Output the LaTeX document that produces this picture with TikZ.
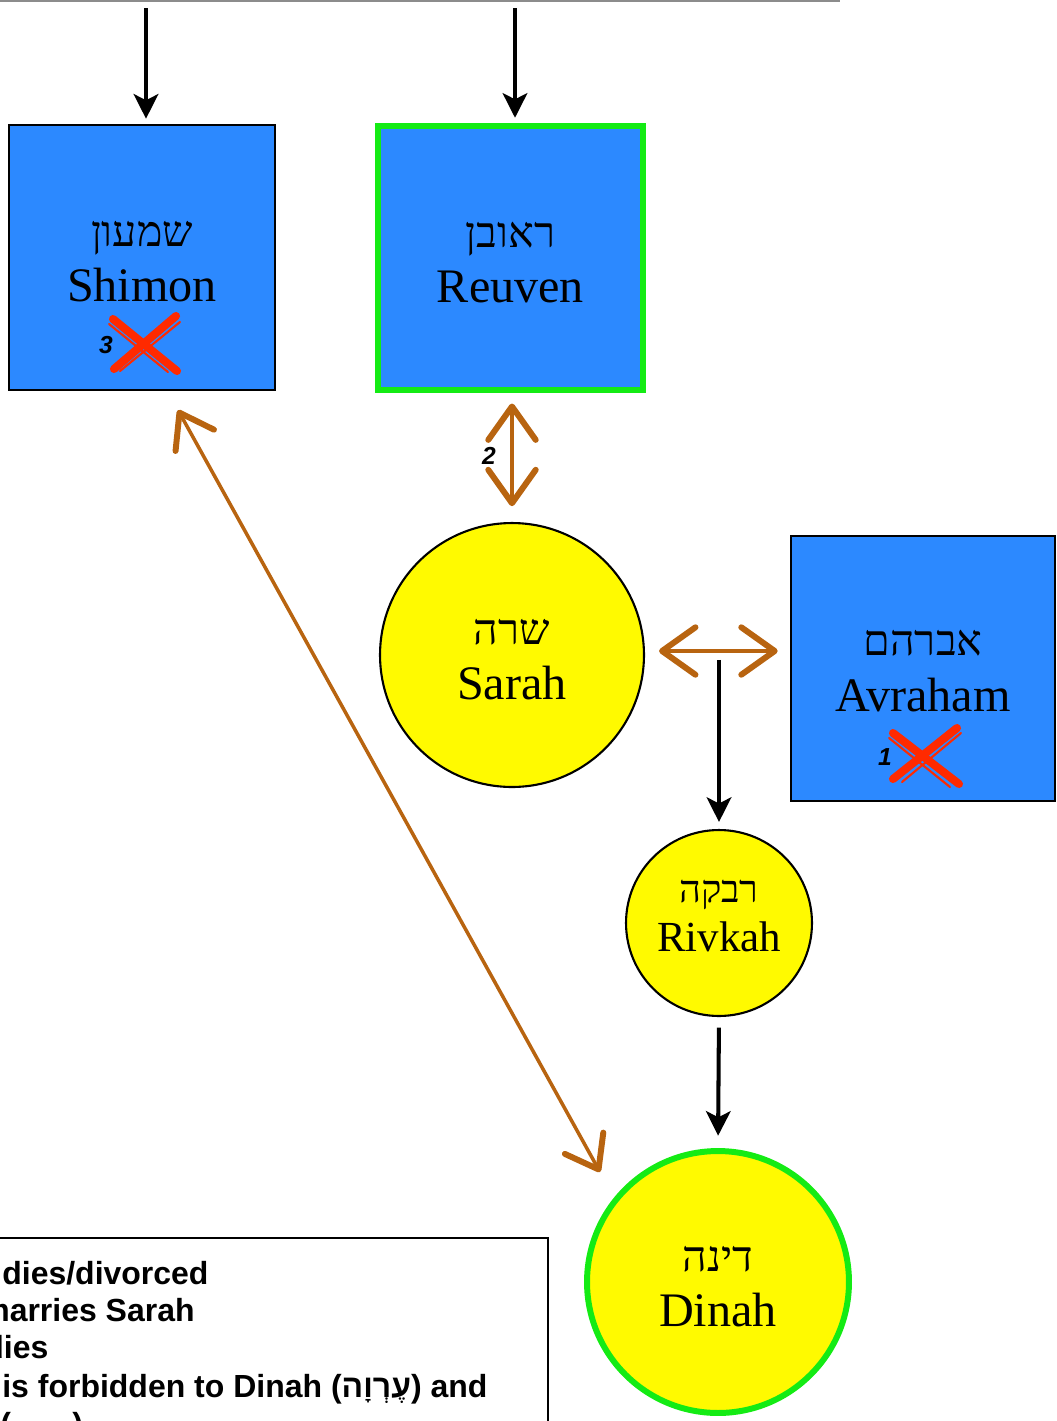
\documentclass[tikz,border=0pt]{standalone}
\usepackage{fontspec}
\setmainfont{Liberation Serif}
\setsansfont{Liberation Sans}
\newfontfamily\hebserif[Script=Hebrew, Scale=0.89]{Liberation Serif}
\newfontfamily\hebsans[Script=Hebrew]{Liberation Sans}
\TeXXeTstate=1
\usetikzlibrary{arrows.meta,calc}

\definecolor{nodeblue}{RGB}{44,137,255}
\definecolor{nodeyellow}{RGB}{255,250,0}
\definecolor{ringgreen}{RGB}{20,235,20}
\definecolor{linkbrown}{RGB}{184,100,16}
\definecolor{crossred}{RGB}{255,42,0}

\begin{document}
\begin{tikzpicture}[x=0.02cm, y=-0.02cm,
  nametext/.style={font=\fontsize{27.4}{31.4}\selectfont, align=center, inner sep=0pt},
  smalltext/.style={font=\fontsize{24.4}{27.6}\selectfont, align=center, inner sep=0pt},
  bluebox/.style={rectangle, draw=black, line width=1.2pt, fill=nodeblue},
  yellowdisc/.style={circle, draw=black, line width=1.2pt, fill=nodeyellow},
  ringed/.style={draw=ringgreen, line width=3.4pt},
  blackarrow/.style={draw=black, line width=2.3pt,
    arrows={-Stealth[length=14pt, width=14pt, inset=3.5pt]}},
  brownlink/.style={draw=linkbrown, line width=2.8pt, line cap=round,
    arrows={Straight Barb[length=19pt, width=27pt, line width=3.4pt, round]-Straight Barb[length=19pt, width=27pt, line width=3.4pt, round]}},
  thinbrownlink/.style={draw=linkbrown, line width=2pt, line cap=round,
    arrows={Straight Barb[length=18pt, width=25pt, line width=3.4pt, round]-Straight Barb[length=17pt, width=25pt, line width=3.4pt, round]}},
  crossline/.style={draw=crossred, line width=4.6pt, line cap=round},
  crossfine/.style={draw=crossred, line width=1.2pt, line cap=round},
  steplabel/.style={font=\sffamily\bfseries\itshape\fontsize{14}{16}\selectfont, inner sep=0pt},
  legendtext/.style={font=\sffamily\bfseries\fontsize{18.2}{21.3}\selectfont, inner sep=0pt, anchor=base west},
  legendframe/.style={draw=black, line width=1.3pt},
  topline/.style={draw=black!45, line width=1.3pt}
]
\useasboundingbox (0,0) rectangle (1057,1421);
\clip (0,0) rectangle (1057,1421);

% thin rule along the upper edge
\draw[topline] (0,0.6) -- (840,0.6);

% people
\node[bluebox, minimum width=5.32cm, minimum height=5.30cm,
  label={[name=shimontext, nametext, yshift=-0.09cm]center:{{\hebserif\beginR שמעון\endR}\\Shimon}}]
  (shimon) at (142,257.5) {};
\node[bluebox, ringed, minimum width=5.30cm, minimum height=5.28cm,
  label={[name=reuventext, nametext, yshift=-0.09cm]center:{{\hebserif\beginR ראובן\endR}\\Reuven}}]
  (reuven) at (510.5,258) {};
\node[bluebox, minimum width=5.28cm, minimum height=5.30cm,
  label={[name=avrahamtext, nametext, yshift=-0.05cm]center:{{\hebserif\beginR אברהם\endR}\\Avraham}}]
  (avraham) at (923,668.5) {};
\node[yellowdisc, minimum size=5.28cm,
  label={[name=sarahtext, nametext, yshift=-0.1cm]center:{{\hebserif\beginR שרה\endR}\\Sarah}}]
  (sarah) at (512,655) {};
\node[yellowdisc, minimum size=3.72cm,
  label={[name=rivkahtext, smalltext, yshift=0.14cm]center:{{\hebserif\beginR רבקה\endR}\\Rivkah}}]
  (rivkah) at (719,923) {};
\node[yellowdisc, ringed, minimum size=5.24cm,
  label={[name=dinahtext, nametext, yshift=-0.1cm]center:{{\hebserif\beginR דינה\endR}\\Dinah}}]
  (dinah) at (718,1282) {};

% incoming lines from above
\coordinate (intoshimon) at (146,8);
\coordinate (intoreuven) at (515,8);
\draw[blackarrow, shorten >=3pt] (intoshimon) -- (intoshimon |- shimon.north);
\draw[blackarrow, shorten >=3pt] (intoreuven) -- (intoreuven |- reuven.north);

% marriages and forbidden link
\coordinate (wedding) at (719,651);
\draw[brownlink, shorten <=8pt, shorten >=7pt] (sarah.east |- wedding) -- (avraham.west |- wedding);
\draw[brownlink, shorten <=6pt, shorten >=9pt] (reuven.south -| sarah.north) -- (sarah.north);
\node[steplabel] (step2) at (489,456) {2};
\coordinate (shimonfoot) at ($(shimon.south)+(36,19)$);
\coordinate (dinahside) at ($(dinah.center)+(-118,-110)$);
\draw[thinbrownlink] (shimonfoot) -- (dinahside);

% descent
\draw[blackarrow, shorten <=5pt, shorten >=4pt] (wedding) -- (wedding |- rivkah.north);
\draw[blackarrow, shorten <=6pt, shorten >=7pt] (rivkah.south) -- (dinah.north);

% crosses
\draw[crossline] (113,319) -- (177,371);
\draw[crossline] (114,369) -- (176,316);
\draw[crossfine] (109,324) -- (168,372);
\draw[crossfine] (120,371) -- (180,322);
\node[steplabel] (step3) at (106,345) {3};
\draw[crossline] (893,733) -- (959,784);
\draw[crossline] (893,779) -- (957,728);
\draw[crossfine] (889,738) -- (950,787);
\draw[crossfine] (902,782) -- (961,733);
\node[steplabel] (step1) at (885,757) {1};

% legend
\draw[legendframe] (-10,1238) rectangle (548,1450);
\node[legendtext] (leg1) at (2,1284) {dies/divorced};
\node[legendtext] (leg2) at (-19,1321) {marries Sarah};
\node[legendtext] (leg3) at (-16,1358) {dies};
\node[legendtext] (leg4) at (2,1397) {is forbidden to Dinah ({\hebsans\bfseries\beginR עֶרְוָה\endR}) and};
\node[legendtext] (leg5) at (0,1435) {(\hspace{35pt})};
\end{tikzpicture}
\end{document}
